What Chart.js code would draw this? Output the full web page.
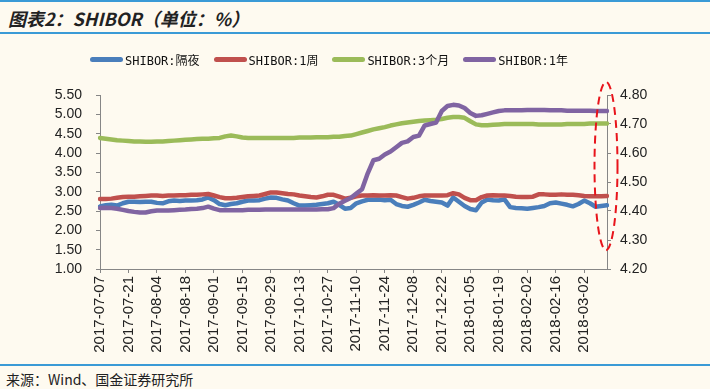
<!DOCTYPE html>
<html lang="zh-CN">
<head>
<meta charset="utf-8">
<title>SHIBOR</title>
<script src="https://cdn.jsdelivr.net/npm/chart.js@4/dist/chart.umd.min.js"></script>
<style>
    html, body {
        margin: 0;
        padding: 0;
        background: #fefaf0;
    }
    .page {
        position: relative;
        width: 710px;
        height: 389px;
        overflow: hidden;
        background: #fefaf0;
    }
    .rule {
        position: absolute;
        left: 0;
        width: 710px;
        height: 2px;
        background: #3a9ad6;
    }
    .title {
        position: absolute;
        left: 8px;
        top: 5px;
        font-family: "Noto Sans CJK SC", sans-serif;
        font-style: italic;
        font-weight: bold;
        font-size: 18px;
        color: #222;
        white-space: nowrap;
    }
    .legend {
        position: absolute;
        left: 90px;
        top: 51px;
        display: flex;
        align-items: center;
        font-family: "DejaVu Sans Mono", "Noto Sans CJK SC", monospace;
        font-size: 12px;
        color: #111;
        white-space: nowrap;
    }
    .legend .item {
        display: flex;
        align-items: center;
        margin-right: 14px;
    }
    .legend .swatch {
        display: inline-block;
        width: 33px;
        height: 5px;
        border-radius: 3px;
        margin-right: 2px;
    }
    .chart-box {
        position: absolute;
        left: 0;
        top: 40px;
        width: 710px;
        height: 315px;
    }
    .source {
        position: absolute;
        left: 6px;
        top: 369px;
        font-family: "Noto Sans CJK SC", sans-serif;
        font-size: 14px;
        color: #222;
        white-space: nowrap;
    }
</style>
</head>
<body>
<div class="page">
    <div class="rule" style="top:0"></div>
    <div class="title">图表2：SHIBOR（单位：%）</div>
    <div class="rule" style="top:32px"></div>
    <div class="chart-box"><canvas id="shiborChart" width="710" height="315"></canvas></div>
    <div class="legend" id="legend"></div>
    <div class="rule" style="top:364px"></div>
    <div class="source">来源：Wind、国金证券研究所</div>
</div>

<script>
// trading days, every second business day
const dates = [
    '2017-07-07', '2017-07-11', '2017-07-13', '2017-07-17', '2017-07-19',
    '2017-07-21', '2017-07-25', '2017-07-27', '2017-07-31', '2017-08-02',
    '2017-08-04', '2017-08-08', '2017-08-10', '2017-08-14', '2017-08-16',
    '2017-08-18', '2017-08-22', '2017-08-24', '2017-08-28', '2017-08-30',
    '2017-09-01', '2017-09-05', '2017-09-07', '2017-09-11', '2017-09-13',
    '2017-09-15', '2017-09-19', '2017-09-21', '2017-09-25', '2017-09-27',
    '2017-09-29', '2017-10-03', '2017-10-05', '2017-10-09', '2017-10-11',
    '2017-10-13', '2017-10-17', '2017-10-19', '2017-10-23', '2017-10-25',
    '2017-10-27', '2017-10-31', '2017-11-02', '2017-11-06', '2017-11-08',
    '2017-11-10', '2017-11-14', '2017-11-16', '2017-11-20', '2017-11-22',
    '2017-11-24', '2017-11-28', '2017-11-30', '2017-12-04', '2017-12-06',
    '2017-12-08', '2017-12-12', '2017-12-14', '2017-12-18', '2017-12-20',
    '2017-12-22', '2017-12-26', '2017-12-28', '2018-01-01', '2018-01-03',
    '2018-01-05', '2018-01-09', '2018-01-11', '2018-01-15', '2018-01-17',
    '2018-01-19', '2018-01-23', '2018-01-25', '2018-01-29', '2018-01-31',
    '2018-02-02', '2018-02-06', '2018-02-08', '2018-02-12', '2018-02-14',
    '2018-02-16', '2018-02-20', '2018-02-22', '2018-02-26', '2018-02-28',
    '2018-03-02', '2018-03-06', '2018-03-08', '2018-03-12', '2018-03-14'
];

// SHIBOR:隔夜 (left axis)
const overnight = [
    2.62, 2.65, 2.66, 2.64, 2.70, 2.74, 2.74, 2.73, 2.74, 2.74,
    2.71, 2.70, 2.75, 2.77, 2.76, 2.77, 2.77, 2.78, 2.80, 2.85,
    2.78, 2.68, 2.65, 2.68, 2.70, 2.74, 2.77, 2.77, 2.78, 2.82,
    2.85, 2.84, 2.80, 2.77, 2.70, 2.64, 2.64, 2.65, 2.66, 2.68,
    2.70, 2.74, 2.66, 2.56, 2.58, 2.70, 2.75, 2.79, 2.79, 2.80,
    2.78, 2.79, 2.68, 2.63, 2.61, 2.66, 2.72, 2.79, 2.76, 2.74,
    2.72, 2.64, 2.85, 2.74, 2.63, 2.55, 2.52, 2.72, 2.80, 2.78,
    2.77, 2.80, 2.60, 2.58, 2.57, 2.56, 2.58, 2.60, 2.63, 2.70,
    2.72, 2.69, 2.66, 2.62, 2.68, 2.77, 2.70, 2.61, 2.63, 2.65
];

// SHIBOR:1周 (left axis)
const week1 = [
    2.81, 2.81, 2.82, 2.84, 2.86, 2.87, 2.87, 2.88, 2.89, 2.90,
    2.90, 2.89, 2.90, 2.90, 2.91, 2.91, 2.92, 2.92, 2.93, 2.94,
    2.90, 2.86, 2.83, 2.83, 2.84, 2.86, 2.88, 2.89, 2.90, 2.94,
    2.98, 2.98, 2.96, 2.94, 2.93, 2.90, 2.88, 2.86, 2.85, 2.88,
    2.92, 2.92, 2.87, 2.82, 2.84, 2.88, 2.90, 2.90, 2.91, 2.90,
    2.90, 2.91, 2.90, 2.86, 2.82, 2.84, 2.88, 2.90, 2.90, 2.90,
    2.90, 2.91, 2.96, 2.93, 2.84, 2.78, 2.78, 2.86, 2.90, 2.91,
    2.90, 2.90, 2.89, 2.87, 2.86, 2.86, 2.87, 2.93, 2.93, 2.92,
    2.92, 2.93, 2.92, 2.92, 2.91, 2.89, 2.88, 2.88, 2.88, 2.89
];

// SHIBOR:3个月 (left axis)
const month3 = [
    4.39, 4.37, 4.35, 4.33, 4.32, 4.31, 4.30, 4.30, 4.29, 4.29,
    4.30, 4.30, 4.31, 4.32, 4.33, 4.34, 4.35, 4.36, 4.37, 4.37,
    4.38, 4.39, 4.43, 4.45, 4.43, 4.40, 4.39, 4.39, 4.39, 4.39,
    4.39, 4.39, 4.39, 4.39, 4.39, 4.40, 4.40, 4.40, 4.41, 4.41,
    4.41, 4.42, 4.42, 4.44, 4.45, 4.49, 4.53, 4.57, 4.61, 4.64,
    4.67, 4.71, 4.74, 4.77, 4.79, 4.81, 4.83, 4.84, 4.85, 4.86,
    4.88, 4.91, 4.93, 4.93, 4.91, 4.82, 4.74, 4.72, 4.72, 4.73,
    4.74, 4.75, 4.75, 4.75, 4.75, 4.75, 4.75, 4.74, 4.74, 4.74,
    4.74, 4.74, 4.75, 4.75, 4.75, 4.75, 4.76, 4.76, 4.76, 4.76
];

// SHIBOR:1年 (right axis)
const year1 = [
    4.410, 4.411, 4.410, 4.408, 4.404, 4.400, 4.397, 4.395, 4.395, 4.399,
    4.402, 4.402, 4.402, 4.403, 4.404, 4.405, 4.407, 4.408, 4.410, 4.415,
    4.408, 4.403, 4.403, 4.403, 4.403, 4.403, 4.404, 4.404, 4.404, 4.405,
    4.405, 4.405, 4.405, 4.405, 4.405, 4.405, 4.405, 4.405, 4.405, 4.406,
    4.406, 4.410, 4.425, 4.435, 4.445, 4.460, 4.475, 4.530, 4.575, 4.580,
    4.595, 4.605, 4.620, 4.635, 4.640, 4.655, 4.660, 4.695, 4.700, 4.705,
    4.745, 4.762, 4.766, 4.764, 4.755, 4.738, 4.728, 4.730, 4.735, 4.740,
    4.745, 4.747, 4.747, 4.747, 4.747, 4.748, 4.748, 4.748, 4.748, 4.747,
    4.747, 4.747, 4.746, 4.746, 4.746, 4.746, 4.746, 4.745, 4.745, 4.745
];

const seriesNames = ['SHIBOR:隔夜', 'SHIBOR:1周', 'SHIBOR:3个月', 'SHIBOR:1年'];
const seriesColors = ['#4a7ebb', '#c0504d', '#9bbb59', '#8064a2'];

// axis ranges
const leftRange = { min: 1.0, max: 5.5, step: 0.5 };
const rightRange = { min: 4.2, max: 4.8, step: 0.1 };
const labelEvery = 5;

const AXIS_GREY = '#868686';
const TICK_FONT = { family: '"Liberation Sans", Arial, sans-serif', size: 14 };

/**
 * Dashed red ellipse around the right axis (annotation)
 */
const ellipsePlugin = {
    id: 'ellipseMark',
    afterDatasetsDraw(chart) {
        const { ctx, chartArea, scales } = chart;
        const top = scales.y1.getPixelForValue(4.845);
        const bottom = scales.y1.getPixelForValue(4.265);
        ctx.save();
        ctx.strokeStyle = '#e8141b';
        ctx.lineWidth = 2;
        ctx.setLineDash([8, 5]);
        ctx.beginPath();
        ctx.ellipse(chartArea.right - 1, (top + bottom) / 2, 11.5, (bottom - top) / 2, 0, 0, Math.PI * 2);
        ctx.stroke();
        ctx.restore();
    }
};

function makeDataset(i, values, axis) {
    return {
        label: seriesNames[i],
        data: values,
        yAxisID: axis,
        borderColor: seriesColors[i],
        backgroundColor: seriesColors[i],
        borderWidth: 4.5,
        borderCapStyle: 'round',
        borderJoinStyle: 'round',
        pointRadius: 0,
        tension: 0,
        order: 3 - i
    };
}

const chart = new Chart(document.getElementById('shiborChart'), {
    type: 'line',
    data: {
        labels: dates,
        datasets: [
            makeDataset(0, overnight, 'y'),
            makeDataset(1, week1, 'y'),
            makeDataset(2, month3, 'y'),
            makeDataset(3, year1, 'y1')
        ]
    },
    options: {
        responsive: false,
        animation: false,
        layout: { padding: { top: 55, left: 0, right: 0, bottom: 0 } },
        plugins: {
            legend: { display: false },
            tooltip: { enabled: false }
        },
        scales: {
            x: {
                offset: false,
                border: { color: AXIS_GREY, width: 1 },
                grid: { drawOnChartArea: false, color: AXIS_GREY, tickLength: 4 },
                ticks: {
                    autoSkip: false,
                    maxRotation: 90,
                    minRotation: 90,
                    padding: 3,
                    color: '#222',
                    font: { family: TICK_FONT.family, size: 15 }
                },
                afterBuildTicks(scale) {
                    scale.ticks = scale.ticks.filter((t, i) => i % labelEvery === 0);
                },
                afterFit(scale) { scale.height = 86; }
            },
            y: {
                position: 'left',
                min: leftRange.min,
                max: leftRange.max,
                border: { color: AXIS_GREY, width: 1 },
                grid: { drawOnChartArea: false, color: AXIS_GREY, tickLength: 4 },
                ticks: {
                    stepSize: leftRange.step,
                    autoSkip: false,
                    padding: 14,
                    color: '#222',
                    font: TICK_FONT,
                    callback: v => v.toFixed(2)
                },
                afterFit(scale) { scale.width = 100; }
            },
            y1: {
                position: 'right',
                min: rightRange.min,
                max: rightRange.max,
                border: { color: AXIS_GREY, width: 1 },
                grid: { drawOnChartArea: false, color: AXIS_GREY, tickLength: 4 },
                ticks: {
                    stepSize: rightRange.step,
                    autoSkip: false,
                    padding: 9,
                    color: '#222',
                    font: TICK_FONT,
                    callback: v => v.toFixed(2)
                },
                afterFit(scale) { scale.width = 103; }
            }
        }
    },
    plugins: [ellipsePlugin]
});

// html legend built from the dataset list
const legendEl = document.getElementById('legend');
chart.data.datasets.forEach(ds => {
    const item = document.createElement('span');
    item.className = 'item';
    const sw = document.createElement('span');
    sw.className = 'swatch';
    sw.style.background = ds.borderColor;
    item.appendChild(sw);
    item.appendChild(document.createTextNode(ds.label));
    legendEl.appendChild(item);
});
</script>
</body>
</html>
